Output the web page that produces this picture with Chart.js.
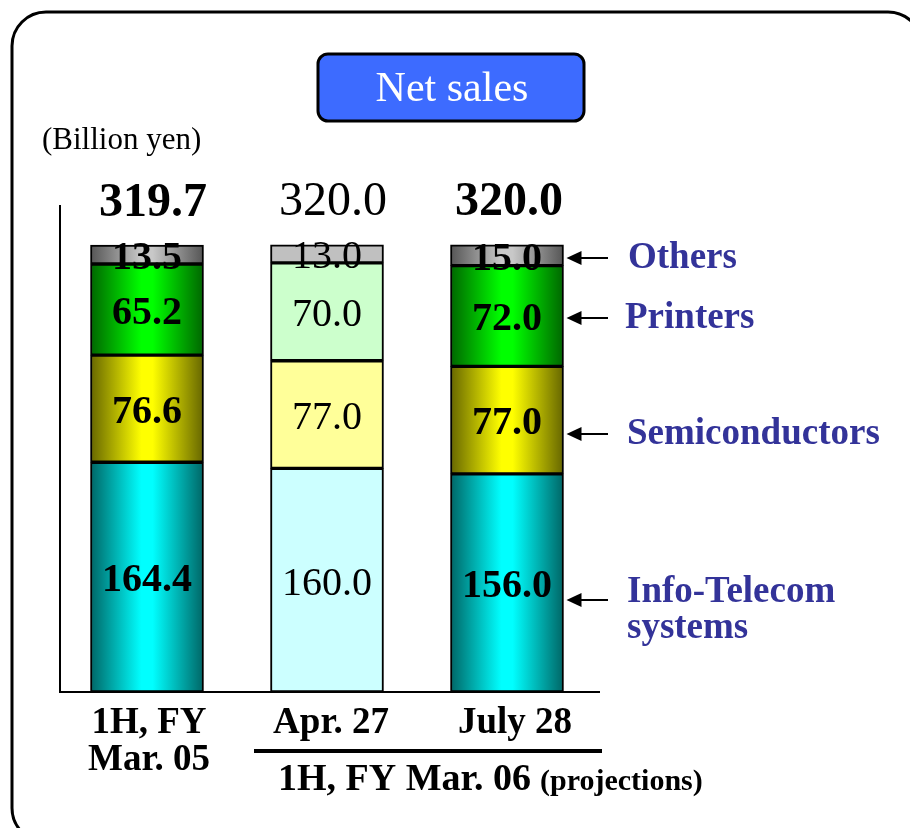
<!DOCTYPE html>
<html>
<head>
<meta charset="utf-8">
<script src="https://cdn.jsdelivr.net/npm/chart.js@4.4.1/dist/chart.umd.min.js"></script>
<style>
  html, body { margin: 0; padding: 0; background: #fff; }
  #wrap { width: 910px; height: 828px; position: relative; }
</style>
</head>
<body>
<div id="wrap"><canvas id="salesChart"></canvas></div>
<script>
// Datos del gráfico (miles de millones de yenes)
const categories = ['1H, FY Mar. 05', 'Apr. 27', 'July 28'];
const segmentNames = ['Info-Telecom systems', 'Semiconductors', 'Printers', 'Others'];
const infoTelecom = [164.4, 160.0, 156.0];
const semiconductors = [76.6, 77.0, 77.0];
const printers = [65.2, 70.0, 72.0];
const others = [13.5, 13.0, 15.0];
const totals = [319.7, 320.0, 320.0];
const yMax = 352;

// Colores: [oscuro, brillante, pálido] por segmento
const palette = [
    ['#006666', '#00ffff', '#ccffff'],
    ['#666600', '#ffff00', '#ffff99'],
    ['#006600', '#00ff00', '#ccffcc'],
    ['#555555', '#c8c8c8', '#c0c0c0']
];
const boldBars = [true, false, true];
const barWidth = 113;
const serif = '"Liberation Serif", "Times New Roman", serif';

// Relleno tipo cilindro para las barras en negrita, plano para la del medio
function cylinderFill(ctx) {
    const colors = palette[ctx.datasetIndex];
    const i = ctx.dataIndex;
    if (!boldBars[i]) return colors[2];
    const chart = ctx.chart;
    const xs = chart.scales && chart.scales.x;
    if (!chart.chartArea || !xs) return colors[1];
    const cx = xs.getPixelForValue(i);
    if (!isFinite(cx)) return colors[1];
    const g = chart.ctx.createLinearGradient(cx - barWidth / 2, 0, cx + barWidth / 2, 0);
    g.addColorStop(0, colors[0]);
    g.addColorStop(0.45, colors[1]);
    g.addColorStop(0.55, colors[1]);
    g.addColorStop(1, colors[0]);
    return g;
}

function roundRect(c, x, y, w, h, r) {
    c.beginPath();
    c.moveTo(x + r, y);
    c.lineTo(x + w - r, y);
    c.arcTo(x + w, y, x + w, y + r, r);
    c.lineTo(x + w, y + h - r);
    c.arcTo(x + w, y + h, x + w - r, y + h, r);
    c.lineTo(x + r, y + h);
    c.arcTo(x, y + h, x, y + h - r, r);
    c.lineTo(x, y + r);
    c.arcTo(x, y, x + r, y, r);
    c.closePath();
}

// Marco, título, ejes y etiquetas
const decorPlugin = {
    id: 'decor',
    beforeDraw(chart) {
        const c = chart.ctx;
        c.save();
        c.fillStyle = '#fff';
        c.fillRect(0, 0, chart.width, chart.height);
        c.lineWidth = 3;
        c.strokeStyle = '#000';
        roundRect(c, 12, 12, 910, 830, 34);
        c.stroke();

        // Caja del título
        roundRect(c, 318, 54, 266, 67, 10);
        c.fillStyle = '#3d6bff';
        c.fill();
        c.lineWidth = 3;
        c.stroke();
        c.fillStyle = '#fff';
        c.font = '42px ' + serif;
        c.textAlign = 'center';
        c.textBaseline = 'middle';
        c.fillText('Net sales', 452, 90);

        c.fillStyle = '#000';
        c.font = '31px ' + serif;
        c.textAlign = 'left';
        c.fillText('(Billion yen)', 42, 141);
        c.restore();
    },
    afterDatasetsDraw(chart) {
        const c = chart.ctx;
        const area = chart.chartArea;
        const ys = chart.scales.y;
        c.save();

        // Ejes
        c.strokeStyle = '#000';
        c.lineWidth = 2;
        c.beginPath();
        c.moveTo(area.left + 3, area.top + 5);
        c.lineTo(area.left + 3, ys.getPixelForValue(0));
        c.lineTo(area.right + 3, ys.getPixelForValue(0));
        c.stroke();

        // Valores de cada segmento
        c.textAlign = 'center';
        c.textBaseline = 'middle';
        chart.data.datasets.forEach((ds, d) => {
            const meta = chart.getDatasetMeta(d);
            meta.data.forEach((bar, i) => {
                c.font = (boldBars[i] ? 'bold ' : '') + '40px ' + serif;
                c.fillStyle = '#000';
                const cy = (bar.y + bar.base) / 2 + 4;
                c.fillText(ds.data[i].toFixed(1), bar.x, cy);
            });
        });

        // Totales
        const top = chart.getDatasetMeta(3);
        top.data.forEach((bar, i) => {
            c.font = (boldBars[i] ? 'bold ' : '') + '48px ' + serif;
            c.fillText(totals[i].toFixed(1), bar.x + (i === 2 ? 2 : 6), ys.getPixelForValue(totals[i]) - 42);
        });

        // Etiquetas de categoría
        c.font = 'bold 37px ' + serif;
        const base = ys.getPixelForValue(0);
        const b0 = chart.getDatasetMeta(0).data;
        c.fillText('1H, FY', b0[0].x + 2, base + 31);
        c.fillText('Mar. 05', b0[0].x + 2, base + 68);
        c.fillText('Apr. 27', b0[1].x + 4, base + 31);
        c.fillText('July 28', b0[2].x + 8, base + 31);

        c.fillRect(254, base + 57, 348, 4);
        c.textAlign = 'left';
        c.font = 'bold 38px ' + serif;
        c.fillText('1H, FY Mar. 06', 278, base + 88);
        c.font = 'bold 30px ' + serif;
        c.fillText('(projections)', 540, base + 90);

        // Flechas y nombres de segmentos
        const last = chart.data.labels.length - 1;
        const arrowY = [600, 434, 318, 258];
        const labelY = [[592, 628], [434], [318], [258]];
        const labelX = [627, 627, 625, 628];
        const lines = [['Info-Telecom', 'systems'], ['Semiconductors'], ['Printers'], ['Others']];
        chart.data.datasets.forEach((ds, d) => {
            const bar = chart.getDatasetMeta(d).data[last];
            const tipX = bar.x + bar.width / 2 + 3;
            const y = arrowY[d];
            c.strokeStyle = '#000';
            c.lineWidth = 2;
            c.beginPath();
            c.moveTo(tipX + 10, y);
            c.lineTo(608, y);
            c.stroke();
            c.fillStyle = '#000';
            c.beginPath();
            c.moveTo(tipX, y);
            c.lineTo(tipX + 15, y - 7);
            c.lineTo(tipX + 15, y + 7);
            c.closePath();
            c.fill();
            c.fillStyle = '#333399';
            c.font = 'bold 37px ' + serif;
            lines[d].forEach((t, k) => c.fillText(t, labelX[d], labelY[d][k]));
        });
        c.restore();
    }
};

const datasets = [infoTelecom, semiconductors, printers, others].map((vals, d) => ({
    label: segmentNames[d],
    data: vals,
    backgroundColor: cylinderFill,
    borderColor: '#000',
    borderWidth: 2,
    borderSkipped: false,
    barThickness: barWidth
}));

document.addEventListener('DOMContentLoaded', function() {
    const ctx = document.getElementById('salesChart').getContext('2d');
    new Chart(ctx, {
        type: 'bar',
        data: { labels: categories, datasets: datasets },
        options: {
            responsive: true,
            maintainAspectRatio: false,
            animation: false,
            layout: { padding: { left: 57, right: 313, top: 200, bottom: 136 } },
            scales: {
                x: { stacked: true, display: false },
                y: { stacked: true, display: false, min: 0, max: yMax }
            },
            plugins: {
                legend: { display: false },
                tooltip: { enabled: false }
            }
        },
        plugins: [decorPlugin]
    });
});
</script>
</body>
</html>
